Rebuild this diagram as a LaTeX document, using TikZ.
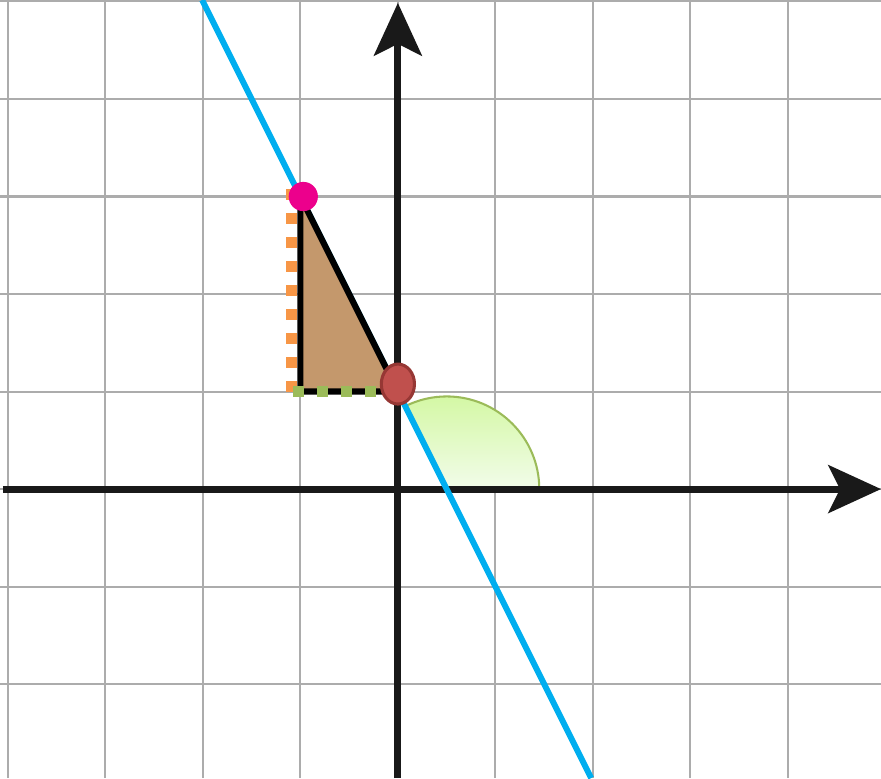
\documentclass[tikz,border=0pt]{standalone}
\usepackage{xcolor}
\usepackage{tikz}
\usetikzlibrary{arrows.meta, positioning, shapes.geometric}

\definecolor{gridgray}{RGB}{172,172,172}
\definecolor{lineblue}{RGB}{0,174,239}
\definecolor{triTan}{RGB}{196,152,108}
\definecolor{dotOrange}{RGB}{247,150,70}
\definecolor{dotGreen}{RGB}{155,187,89}
\definecolor{dotPink}{RGB}{236,0,140}
\definecolor{dotRed}{RGB}{192,80,77}
\definecolor{dotRedDark}{RGB}{150,55,52}
\definecolor{arcTop}{RGB}{212,248,165}
\definecolor{arcBottom}{RGB}{242,252,234}

\begin{document}
\begin{tikzpicture}[>={Stealth[length=5.4mm, width=4.9mm, inset=1.2mm]},
  gridline/.style={draw=gridgray, line width=0.6pt},
  axisline/.style={->, line width=2pt, black!90},
  squaredots/.style={line width=3.3pt, dash pattern=on 3.2pt off 3.8pt}]
  \useasboundingbox (-4.08,-2.964) rectangle (4.954,5.015);

  % Grid
  \foreach \i in {-4,...,4} \draw[gridline] (\i,-2.964) -- (\i,5.015);
  \foreach \j in {-2,...,5} \draw[gridline] (-4.08,\j) -- (4.954,\j);

  % Angle at the x-intercept
  \coordinate (xint) at (0.5,0);
  \draw[top color=arcTop, bottom color=arcBottom, draw=dotGreen, line width=0.6pt]
    (xint) -- ++(0:0.95) arc[start angle=0, end angle=116.57, radius=0.95] -- cycle;

  % Axes
  \coordinate (xl) at (-4.05,0);
  \coordinate (xr) at (4.954,0);
  \coordinate (yb) at (0,-2.964);
  \coordinate (yt) at (0,4.985);
  \draw[axisline] (xl) -- (xr);
  \draw[axisline] (yb) -- (yt);

  % Line y = -2x + 1
  \coordinate (ltop) at (-2.0075,5.015);
  \coordinate (lbot) at (1.982,-2.964);
  \draw[lineblue, line width=1.75pt] (ltop) -- (lbot);

  % Slope triangle
  \coordinate (P) at (-1,3);
  \coordinate (Q) at (-1,1);
  \coordinate (R) at (0,1);
  \draw[fill=triTan, line width=1.8pt, line join=round] (P) -- (Q) -- (R) -- cycle;
  \draw[squaredots, dotOrange] ([xshift=-0.092cm]Q) -- ([xshift=-0.092cm, yshift=0.097cm]P);
  \draw[squaredots, dotGreen] ([xshift=-0.077cm]Q) -- (R);

  % Points
  \node[circle, fill=dotPink, minimum size=0.3cm, inner sep=0pt] (pdot) at ([xshift=0.03cm]P) {};
  \node[ellipse, fill=dotRed, draw=dotRedDark, line width=0.9pt, minimum width=0.34cm,
        minimum height=0.41cm, inner sep=0pt] (rdot) at ([yshift=0.077cm]R) {};
\end{tikzpicture}
\end{document}
